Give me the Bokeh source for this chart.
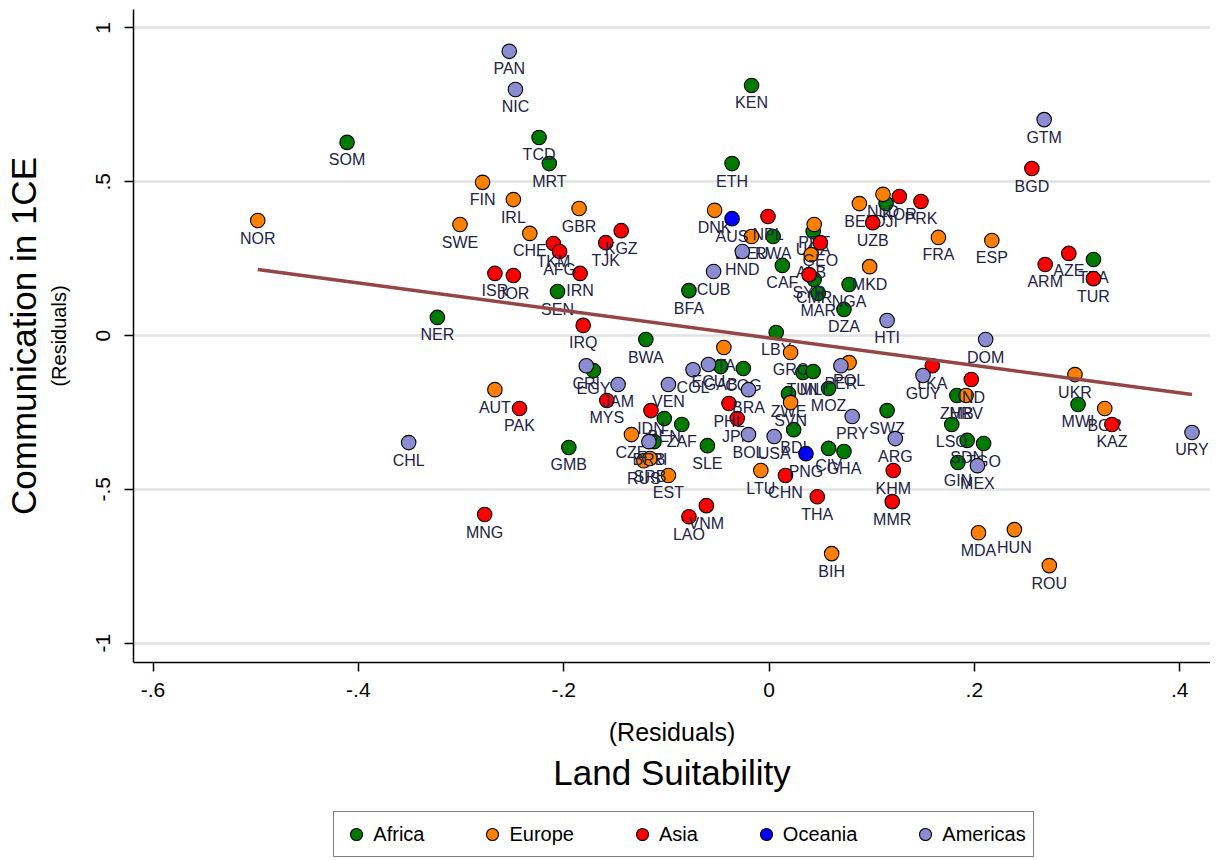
import numpy as np
from bokeh.plotting import figure
from bokeh.layouts import column
from bokeh.models import (ColumnDataSource, LinearAxis, FixedTicker, CustomJSTickFormatter,
                          Legend, LegendItem, Range1d, Title)
from bokeh.embed import file_html
from bokeh.resources import INLINE
from bokeh.core.properties import value

# ---------------- data ----------------
africa_codes = ["SOM", "TCD", "MRT", "KEN", "ETH", "SEN", "NER", "BWA", "EGY", "GMB",
                "BFA", "RWA", "CAF", "UGA", "CMR", "MAR", "NGA", "DZA", "DJI", "LBY",
                "GAB", "COG", "TUN", "MLI", "MOZ", "ZWE", "BDI", "SWZ", "CIV", "GHA",
                "BEN", "ZAF", "ERI", "SLE", "TZA", "MWI", "ZMB", "LSO", "SDN", "TGO", "GIN"]
africa_x = [-0.411, -0.224, -0.214, -0.017, -0.036, -0.206, -0.323, -0.120, -0.171, -0.195,
            -0.078, 0.004, 0.013, 0.043, 0.044, 0.048, 0.078, 0.073, 0.114, 0.007,
            -0.047, -0.025, 0.033, 0.043, 0.058, 0.019, 0.024, 0.115, 0.058, 0.073,
            -0.102, -0.085, -0.112, -0.060, 0.316, 0.301, 0.183, 0.178, 0.193, 0.209, 0.184]
africa_y = [0.628, 0.644, 0.559, 0.813, 0.559, 0.143, 0.059, -0.013, -0.114, -0.364,
            0.146, 0.322, 0.228, 0.338, 0.182, 0.137, 0.166, 0.085, 0.429, 0.010,
            -0.101, -0.107, -0.120, -0.117, -0.172, -0.189, -0.306, -0.244, -0.367, -0.377,
            -0.270, -0.289, -0.345, -0.358, 0.247, -0.224, -0.195, -0.289, -0.341, -0.351, -0.413]

europe_codes = ["NOR", "FIN", "IRL", "GBR", "SWE", "CHE", "AUT", "DNK", "DEU", "PRT",
                "ALB", "BEL", "NLD", "MKD", "FRA", "ESP", "ITA", "GRC", "POL", "SVN",
                "CZE", "RUS", "SRB", "EST", "LTU", "BIH", "HRV", "UKR", "BGR", "MDA",
                "HUN", "ROU"]
europe_x = [-0.498, -0.279, -0.249, -0.185, -0.301, -0.233, -0.267, -0.053, -0.017, 0.044,
            0.041, 0.088, 0.111, 0.098, 0.165, 0.217, -0.044, 0.021, 0.078, 0.021,
            -0.134, -0.122, -0.116, -0.098, -0.008, 0.061, 0.192, 0.298, 0.327, 0.204,
            0.239, 0.273]
europe_y = [0.374, 0.498, 0.442, 0.413, 0.361, 0.332, -0.176, 0.407, 0.322, 0.361,
            0.263, 0.429, 0.459, 0.224, 0.319, 0.309, -0.039, -0.055, -0.088, -0.218,
            -0.322, -0.407, -0.400, -0.455, -0.439, -0.709, -0.195, -0.127, -0.237, -0.641,
            -0.631, -0.748]

asia_codes = ["TKM", "AFG", "KGZ", "TJK", "ISR", "JOR", "IRN", "IRQ", "MYS", "PAK",
              "MNG", "IDN", "PHL", "JPN", "NPL", "GEO", "SYR", "UZB", "KOR", "PRK",
              "BGD", "ARM", "AZE", "TUR", "LKA", "IND", "KAZ", "KHM", "MMR", "THA",
              "CHN", "VNM", "LAO"]
asia_x = [-0.210, -0.204, -0.144, -0.159, -0.267, -0.249, -0.184, -0.181, -0.158, -0.243,
          -0.277, -0.115, -0.039, -0.031, -0.001, 0.050, 0.039, 0.101, 0.127, 0.148,
          0.256, 0.269, 0.292, 0.316, 0.159, 0.197, 0.334, 0.121, 0.120, 0.047,
          0.016, -0.061, -0.078]
asia_y = [0.299, 0.273, 0.341, 0.302, 0.202, 0.195, 0.202, 0.033, -0.211, -0.237,
          -0.582, -0.244, -0.221, -0.270, 0.387, 0.302, 0.198, 0.367, 0.452, 0.436,
          0.543, 0.231, 0.267, 0.185, -0.098, -0.143, -0.289, -0.439, -0.540, -0.524,
          -0.455, -0.553, -0.589]

oceania_codes = ["AUS", "PNG"]
oceania_x = [-0.036, 0.036]
oceania_y = [0.380, -0.384]

americas_codes = ["PAN", "NIC", "GTM", "CHL", "HND", "CUB", "HTI", "DOM", "URY", "GUY",
                  "MEX", "ARG", "PRY", "BOL", "USA", "PER", "CRI", "JAM", "VEN", "COL",
                  "ECU", "BRA", "BRB"]
americas_x = [-0.253, -0.247, 0.268, -0.351, -0.026, -0.054, 0.115, 0.211, 0.412, 0.150,
              0.203, 0.123, 0.081, -0.020, 0.005, 0.070, -0.178, -0.147, -0.098, -0.074,
              -0.059, -0.020, -0.117]
americas_y = [0.924, 0.800, 0.702, -0.348, 0.273, 0.208, 0.049, -0.013, -0.315, -0.130,
              -0.423, -0.335, -0.263, -0.322, -0.328, -0.098, -0.098, -0.159, -0.159, -0.111,
              -0.094, -0.176, -0.345]

# fitted line (end points)
fit_x = [-0.498, 0.412]
fit_y = [0.215, -0.192]

x_ticks = [-0.6, -0.4, -0.2, 0.0, 0.2, 0.4]
y_ticks = [-1.0, -0.5, 0.0, 0.5, 1.0]

group_names = ["Africa", "Europe", "Asia", "Oceania", "Americas"]
group_colors = ["#007a00", "#ff8000", "#ff0000", "#0000ff", "#8c8cd2"]
group_data = [(africa_codes, africa_x, africa_y),
              (europe_codes, europe_x, europe_y),
              (asia_codes, asia_x, asia_y),
              (oceania_codes, oceania_x, oceania_y),
              (americas_codes, americas_x, americas_y)]

FONT = "Liberation Sans"
TXT = "#222244"

p = figure(frame_width=1077, frame_height=653, output_backend="svg", toolbar_location=None,
           x_range=Range1d(-0.619, 0.43), y_range=Range1d(-1.063, 1.060),
           min_border_left=127, min_border_right=0, min_border_top=9, min_border_bottom=140)
p.outline_line_color = None
p.background_fill_color = "white"
p.border_fill_color = "white"

fmt = CustomJSTickFormatter(code="""
let s;
if (Math.abs(tick) < 1e-9) { s = "0"; }
else { s = tick.toFixed(1); if (s.endsWith(".0")) s = s.slice(0, -2); s = s.replace(/^(-?)0\\./, "$1."); }
return s;
""")

# x axis
xa = p.xaxis[0]
xa.ticker = FixedTicker(ticks=x_ticks)
xa.formatter = fmt
xa.major_tick_out = 9
xa.major_tick_in = 0
xa.minor_tick_line_color = None
xa.axis_line_color = "black"
xa.axis_line_width = 1.5
xa.major_tick_line_width = 1.5
xa.major_label_text_font = FONT
xa.major_label_text_font_size = "21px"
xa.major_label_text_color = "black"
xa.major_label_standoff = 11
xa.axis_label = "(Residuals)"
xa.axis_label_text_font = FONT
xa.axis_label_text_font_size = "25px"
xa.axis_label_text_font_style = "normal"
xa.axis_label_text_color = "black"
xa.axis_label_standoff = 18

p.add_layout(Title(text="Land Suitability", align="center", text_font=FONT,
                   text_font_size="35px", text_font_style="normal", text_color="black",
                   standoff=4), "below")

# y axis
ya = p.yaxis[0]
ya.ticker = FixedTicker(ticks=y_ticks)
ya.formatter = fmt
ya.major_tick_out = 9
ya.major_tick_in = 0
ya.minor_tick_line_color = None
ya.axis_line_color = "black"
ya.axis_line_width = 1.5
ya.major_tick_line_width = 1.5
ya.major_label_text_font = FONT
ya.major_label_text_font_size = "21px"
ya.major_label_text_color = "black"
ya.major_label_orientation = "vertical"
ya.major_label_standoff = 14
ya.axis_label = "(Residuals)"
ya.axis_label_text_font = FONT
ya.axis_label_text_font_size = "20px"
ya.axis_label_text_font_style = "normal"
ya.axis_label_text_color = "black"
ya.axis_label_standoff = 24

ya2 = LinearAxis(ticker=FixedTicker(ticks=[]), axis_line_color=None,
                 major_tick_line_color=None, minor_tick_line_color=None,
                 major_label_text_font_size="0px",
                 axis_label="Communication in 1CE", axis_label_text_font=FONT,
                 axis_label_text_font_size="35px", axis_label_text_font_style="normal",
                 axis_label_text_color="black", axis_label_standoff=2)
p.add_layout(ya2, "left")

p.xgrid.visible = False
p.ygrid.ticker = FixedTicker(ticks=y_ticks)
p.ygrid.grid_line_color = "#e2e2e2"
p.ygrid.grid_line_width = 2.5

for name, col, (codes, xs, ys) in zip(group_names, group_colors, group_data):
    src = ColumnDataSource(dict(x=xs, y=ys, code=codes))
    p.scatter("x", "y", source=src, marker="circle", size=14.5, fill_color=col,
              line_color="black", line_width=1.1)
    p.text("x", "y", text="code", source=src, text_align="center", text_baseline="top",
           y_offset=9, text_font=value(FONT), text_font_size="16px", text_color=TXT)

p.line(fit_x, fit_y, line_color="#954545", line_width=3.5)

# ---------------- legend strip (separate figure below the plot) ----------------
lg = figure(frame_width=1077, frame_height=56, output_backend="svg", toolbar_location=None,
            x_range=Range1d(0, 1), y_range=Range1d(0, 1), x_axis_type=None, y_axis_type=None,
            min_border_left=127, min_border_right=0, min_border_top=0, min_border_bottom=0)
lg.outline_line_color = None
lg.xgrid.visible = False
lg.ygrid.visible = False
lg.background_fill_color = "white"
lg.border_fill_color = "white"

# legend keys: one off-range sample per group so the key glyph is drawn (not visible in the strip)
items = []
for name, col in zip(group_names, group_colors):
    r = lg.scatter(x=[5.0], y=[5.0], marker="circle", size=14.5, fill_color=col,
                   line_color="black", line_width=1.1)
    items.append(LegendItem(label=name, renderers=[r]))

legend = Legend(items=items, orientation="horizontal", location=(291, 1),
                label_text_font=FONT, label_text_font_size="20px", label_text_color="black",
                glyph_width=30, glyph_height=30, label_standoff=2, spacing=53,
                padding=7, margin=0, border_line_color="black", border_line_width=1,
                background_fill_color="white")
lg.add_layout(legend, "center")

layout = column(p, lg, spacing=0)
open("out.html", "w").write(file_html(layout, INLINE))
